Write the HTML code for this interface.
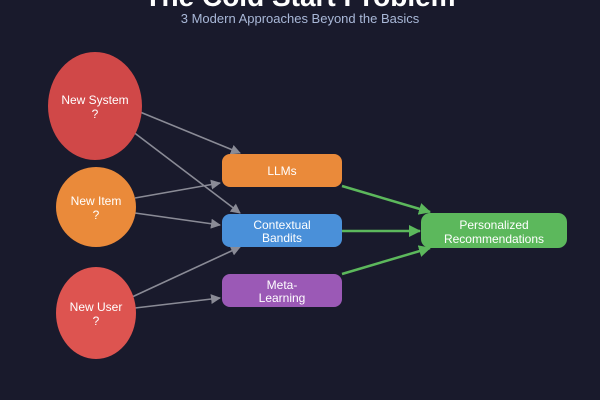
<!DOCTYPE html>
<html><head><style>
html,body{margin:0;padding:0;background:#191a2c;}
svg{display:block}
text{font-family:"Liberation Sans",Arial,sans-serif;fill:#fff;text-anchor:middle}
</style></head><body>
<svg width="600" height="400" viewBox="0 0 600 400">
<rect width="600" height="400" fill="#191a2c"/>
<defs>
<marker id="g" markerWidth="10" markerHeight="10" refX="9" refY="5" orient="auto" markerUnits="userSpaceOnUse"><path d="M0,0 L10,5 L0,10 Z" fill="#8a8b96"/></marker>
<marker id="gr" markerWidth="12" markerHeight="12" refX="11" refY="6" orient="auto" markerUnits="userSpaceOnUse"><path d="M0,0 L12,6 L0,12 Z" fill="#5cb85c"/></marker>
</defs>
<text x="300" y="6" font-size="28" font-weight="bold">The Cold Start Problem</text>
<text x="300" y="23" font-size="13" style="fill:#a9b8d8">3 Modern Approaches Beyond the Basics</text>

<g stroke="#8a8b96" stroke-width="1.6" fill="none" marker-end="url(#g)">
<line x1="140" y1="112" x2="240" y2="153"/>
<line x1="128" y1="128" x2="240" y2="213"/>
<line x1="135" y1="198" x2="220" y2="183"/>
<line x1="135" y1="213" x2="220" y2="225"/>
<line x1="132" y1="297" x2="240" y2="247"/>
<line x1="135" y1="308" x2="220" y2="298"/>
</g>
<g stroke="#5cb85c" stroke-width="2.5" fill="none" marker-end="url(#gr)">
<line x1="342" y1="186" x2="430" y2="212"/>
<line x1="342" y1="231" x2="420" y2="231"/>
<line x1="342" y1="274" x2="430" y2="248"/>
</g>

<ellipse cx="95" cy="106" rx="47" ry="54" fill="#d04848"/>
<text x="95" y="104" font-size="12">New System</text>
<text x="95" y="118" font-size="12">?</text>
<ellipse cx="96" cy="207" rx="40" ry="40" fill="#ea8a3a"/>
<text x="96" y="205" font-size="12">New Item</text>
<text x="96" y="219" font-size="12">?</text>
<ellipse cx="96" cy="313" rx="40" ry="46" fill="#dd5450"/>
<text x="96" y="311" font-size="12">New User</text>
<text x="96" y="325" font-size="12">?</text>

<rect x="222" y="154" width="120" height="33" rx="8" fill="#ea8a3a"/>
<text x="282" y="175" font-size="12">LLMs</text>
<rect x="222" y="214" width="120" height="33" rx="8" fill="#4a90d9"/>
<text x="282" y="229" font-size="12">Contextual</text>
<text x="282" y="242" font-size="12">Bandits</text>
<rect x="222" y="274" width="120" height="33" rx="8" fill="#9b59b6"/>
<text x="282" y="289" font-size="12">Meta-</text>
<text x="282" y="302" font-size="12">Learning</text>
<rect x="421" y="213" width="146" height="35" rx="9" fill="#5cb85c"/>
<text x="494" y="229" font-size="12">Personalized</text>
<text x="494" y="243" font-size="12">Recommendations</text>
</svg>
</body></html>
